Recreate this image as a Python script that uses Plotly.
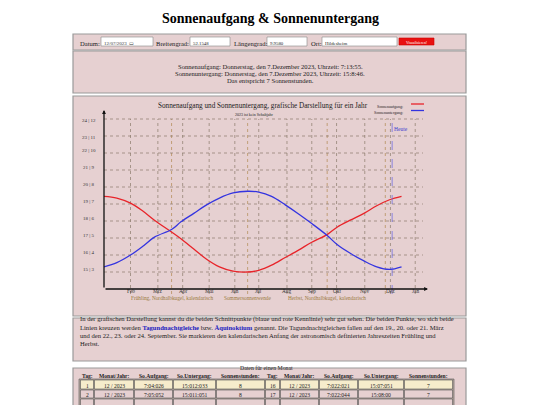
import plotly.graph_objects as go

W, H = 532, 397
OFF = 8
FONT = "Liberation Serif"

# ---- data ----
days = [0, 15, 31, 45, 59, 79, 90, 105, 120, 135, 151, 168, 181, 196, 212, 228, 243, 261, 273, 288, 304, 319, 334, 348]
sunrise = [19.45, 19.35, 19.05, 18.6, 18.05, 17.35, 16.95, 16.35, 15.75, 15.3, 15.05, 15.0, 15.1, 15.4, 15.85, 16.3, 16.75, 17.2, 17.65, 18.05, 18.45, 18.9, 19.25, 19.45]
sunset = [15.3, 15.55, 16.0, 16.5, 17.05, 17.5, 17.95, 18.45, 18.95, 19.35, 19.65, 19.75, 19.7, 19.45, 18.95, 18.4, 17.85, 17.15, 16.6, 16.1, 15.65, 15.3, 15.15, 15.3]
month_labels = ["Feb", "Mrz", "Apr", "Mai", "Jun", "Jul", "Aug", "Sep", "Okt", "Nov", "Dez", "Jan"]
month_days = [31, 63, 92, 123, 153, 181, 214, 243, 272, 305, 335, 364]
extra_lines = [79, 168, 261, 329]
ytick_vals = [24, 23, 22, 21, 20, 19, 18, 17, 16, 15]
ytick_labels = ["24 | 12", "23 | 11", "22 | 10", "21 | 9", "20 | 8", "19 | 7", "18 | 6", "17 | 5", "16 | 4", "15 | 3"]
today_day = 337
season_labels = [("Frühling, Nordhalbkugel, kalendarisch", 79), ("Sommersonnenwende", 168), ("Herbst, Nordhalbkugel, kalendarisch", 261)]

table_header = ["Tag:", "Monat/Jahr:", "So.Aufgang:", "So.Untergang:", "Sonnenstunden:",
                "Tag:", "Monat/Jahr:", "So.Aufgang:", "So.Untergang:", "Sonnenstunden:"]
table_rows = [["1", "12 / 2023", "7:04:026", "15:012:033", "8", "16", "12 / 2023", "7:022:021", "15:07:051", "7"],
              ["2", "12 / 2023", "7:05:052", "15:011:051", "8", "17", "12 / 2023", "7:022:044", "15:08:00", "7"]]

def X(px): return (px - OFF) / W
def Y(py): return 1 - (py - OFF) / H
def TY(py, size): return Y(py - 0.6 * size)

PANEL = "#e6d0d1"
BORDER = "#9a9a9a"

fig = go.Figure()
fig.add_trace(go.Scatter(x=days, y=sunrise, mode="lines", line=dict(color="#e8242a", width=1.3, shape="spline"),
                         hoverinfo="skip", showlegend=False))
fig.add_trace(go.Scatter(x=days, y=sunset, mode="lines", line=dict(color="#3434e0", width=1.3, shape="spline"),
                         hoverinfo="skip", showlegend=False))

shapes, ann = [], []
for (y0, y1) in [(34, 50), (51, 93), (96, 316), (318, 361), (368, 410)]:
    shapes.append(dict(type="rect", xref="paper", yref="paper", x0=X(73), x1=X(466), y0=Y(y1), y1=Y(y0),
                       fillcolor=PANEL, line=dict(color=BORDER, width=1.2), layer="below"))

PX_DAY = 0.855
X0PX, X1PX = 104, 425
YTOP, YBOT = 112, 289
PX_H = 17.0
xr = [0, (X1PX - X0PX) / PX_DAY]
yr = [14, 14 + (YBOT - YTOP) / PX_H]

def txt(x, y, t, size=6, color="#222", anchor="left", bold=False):
    ann.append(dict(x=X(x), y=TY(y, size), xref="paper", yref="paper", text=("<b>%s</b>" % t) if bold else t, showarrow=False,
                    xanchor=anchor, font=dict(size=size, family=FONT, color=color)))
def box(x0, x1, y0, y1, fill="white", line="#888"):
    shapes.append(dict(type="rect", xref="paper", yref="paper", x0=X(x0), x1=X(x1), y0=Y(y1), y1=Y(y0),
                       fillcolor=fill, line=dict(color=line, width=0.6)))

grid = dict(color="#8a7a6a", width=0.7, dash="dot")
for v, lab in zip(ytick_vals, ytick_labels):
    shapes.append(dict(type="line", xref="x", yref="y", x0=0, x1=(423 - X0PX) / PX_DAY, y0=v, y1=v, line=grid, layer="below"))
    py = YBOT - (v - yr[0]) * PX_H
    txt(89, py, lab, size=5, color="#333", anchor="center")
for d in month_days:
    shapes.append(dict(type="line", xref="x", yref="paper", x0=d, x1=d, y0=Y(294), y1=Y(119), line=grid, layer="below"))
for d in extra_lines:
    shapes.append(dict(type="line", xref="x", yref="paper", x0=d, x1=d, y0=Y(294), y1=Y(119),
                       line=dict(color="#b08850", width=0.7, dash="dot"), layer="below"))
for lab, d in zip(month_labels, month_days):
    txt(X0PX + d * PX_DAY, 299, lab, size=5.3, color="#333", anchor="center")
for lab, d in season_labels:
    txt(X0PX + d * PX_DAY, 306.5, lab, size=5.3, color="#9a7a40", anchor="center")
shapes.append(dict(type="line", xref="x", yref="paper", x0=today_day, x1=today_day, y0=Y(294), y1=Y(119),
                   line=dict(color="#6060e0", width=0.7, dash="dash")))
txt(401, 127, "Heute", size=5.5, color="#4040d0", anchor="center")
ann.append(dict(x=X(104), y=Y(YTOP - 2), ax=0, ay=YBOT - YTOP + 2, xref="paper", yref="paper", axref="pixel", ayref="pixel",
                showarrow=True, arrowhead=2, arrowsize=0.6, arrowwidth=1.3, arrowcolor="#111", text=""))
ann.append(dict(x=X(428), y=Y(YBOT), ax=-(428 - 104), ay=0, xref="paper", yref="paper", axref="pixel", ayref="pixel",
                showarrow=True, arrowhead=2, arrowsize=0.6, arrowwidth=1.3, arrowcolor="#111", text=""))
txt(263, 104, "Sonnenaufgang und Sonnenuntergang, grafische Darstellung für ein Jahr", size=7.2, anchor="center")
txt(254, 112, "2023 ist kein Schaltjahr", size=4, anchor="center")
for i, (lab, col) in enumerate([("Sonnenaufgang:", "#e8242a"), ("Sonnenuntergang:", "#3434e0")]):
    yy = 104 + i * 6.5
    txt(405, yy, lab, size=4, anchor="right")
    shapes.append(dict(type="line", xref="paper", yref="paper", x0=X(411), x1=X(424), y0=Y(yy), y1=Y(yy), line=dict(color=col, width=1.3)))

txt(270, 17, "Sonnenaufgang & Sonnenuntergang", size=14, color="#000", anchor="center", bold=True)
txt(78, 42, "Datum:", size=6.6)
box(101, 153, 37, 46); txt(102, 42, "12/07/2023  ▭", size=5, color="#333")
txt(154, 42, "Breitengrad:", size=6.6)
box(190, 230, 37, 46); txt(191, 42, "52.1548", size=4.8)
txt(232, 42, "Längengrad:", size=6.6)
box(267, 307, 37, 46); txt(268, 42, "9.9580", size=4.8)
txt(309, 42, "Ort:", size=6.6)
box(322, 397, 37, 46); txt(323, 42, "Hildesheim", size=4.8)
box(399, 434, 38, 45, fill="#e81010", line="#c00"); txt(416.5, 41.5, "Visualisieren!", size=3.8, color="white", anchor="center")
txt(270, 65, "Sonnenaufgang: Donnerstag, den 7.Dezember 2023, Uhrzeit: 7:13:55.", size=6.6, anchor="center")
txt(270, 72, "Sonnenuntergang: Donnerstag, den 7.Dezember 2023, Uhrzeit: 15:8:46.", size=6.6, anchor="center")
txt(270, 79, "Das entspricht 7 Sonnenstunden.", size=6.6, anchor="center")
P = 6.6
txt(78, 329, "In der grafischen Darstellung kannst du die beiden Schnittpunkte (blaue und rote Kennlinie) sehr gut sehen. Die beiden Punkte, wo sich beide", size=P)
txt(78, 337, "Linien kreuzen werden <b><span style='color:#2020c0'>Tagundnachtgleiche</span></b> bzw. <b><span style='color:#2020c0'>Äquinoktium</span></b> genannt. Die Tagundnachtgleichen fallen auf den 19., 20. oder 21. März", size=P)
txt(78, 345, "und den 22., 23. oder 24. September. Sie markieren den kalendarischen Anfang der astronomisch definierten Jahreszeiten Frühling und", size=P)
txt(78, 353, "Herbst.", size=P)
txt(266, 376, "Daten für einen Monat", size=5.8, anchor="center")
cols = [80, 94, 134, 173, 216, 265, 280, 319, 358, 404, 453]
box(79, 454, 379, 410, fill="#b8a8a0", line="#555")
for r, (y0, y1) in enumerate([(380, 389), (390, 398), (399, 407)]):
    for c in range(10):
        fill = "#f6eccc" if r == 0 else PANEL
        box(cols[c] + 0.5, cols[c + 1] - 0.5, y0, y1, fill=fill, line="#555")
        t = table_header[c] if r == 0 else table_rows[r - 1][c]
        txt((cols[c] + cols[c + 1]) / 2, (y0 + y1) / 2, t, size=5.6, anchor="center", bold=(r == 0))

fig.update_layout(
    width=W, height=H, margin=dict(l=0, r=0, t=0, b=0),
    paper_bgcolor="white", plot_bgcolor="rgba(0,0,0,0)",
    xaxis=dict(domain=[X(X0PX), X(X1PX)], range=xr, visible=False, fixedrange=True),
    yaxis=dict(domain=[Y(YBOT), Y(YTOP)], range=yr, visible=False, fixedrange=True),
    shapes=shapes, annotations=ann, showlegend=False,
)
fig.write_html("out.html")
